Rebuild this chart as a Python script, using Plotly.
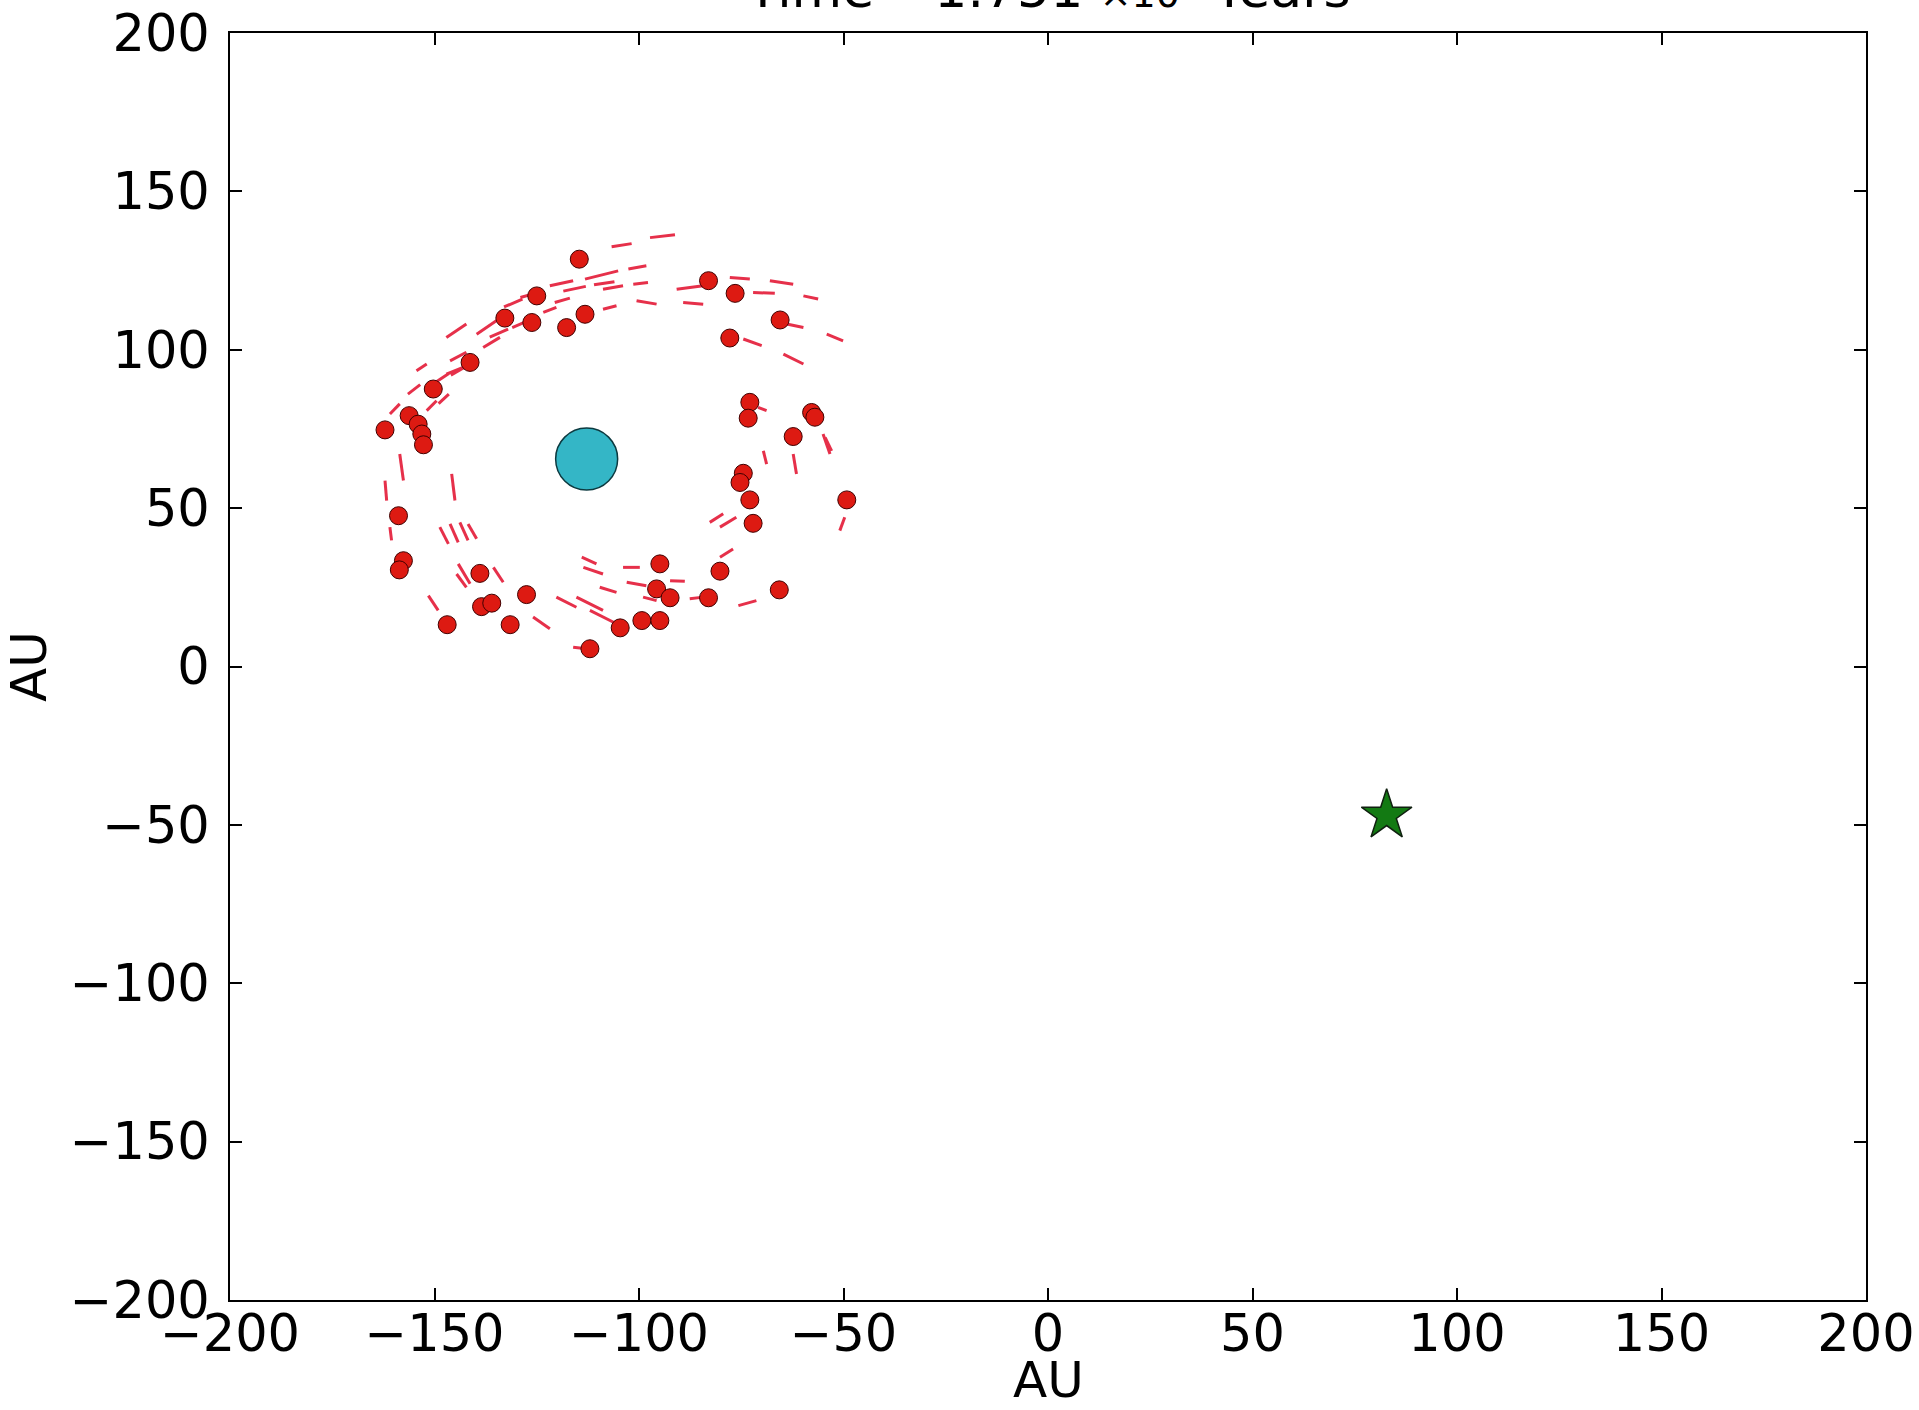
import plotly.graph_objects as go

# Particle positions (AU)
dot_x = [-114.6, -83.0, -76.5, -125.0, -132.8, -126.2, -117.7, -113.2, -65.5, -77.8,
         -141.3, -150.3, -162.1, -156.2, -154.0, -153.1, -152.7, -72.9, -73.3, -57.8,
         -57.0, -62.3, -74.5, -75.3, -72.9, -49.2, -72.1, -158.8, -157.6, -158.6,
         -138.9, -94.9, -80.2, -127.5, -95.7, -92.4, -83.0, -65.7, -138.5, -136.0,
         -146.9, -131.5, -104.6, -99.3, -94.9, -112.0]
dot_y = [128.6, 121.8, 117.8, 117.0, 110.0, 108.6, 107.0, 111.2, 109.4, 103.7,
         96.0, 87.6, 74.7, 79.2, 76.5, 73.4, 70.0, 83.4, 78.4, 80.2,
         78.7, 72.6, 61.0, 58.1, 52.6, 52.6, 45.2, 47.6, 33.4, 30.5,
         29.4, 32.4, 30.1, 22.7, 24.5, 21.7, 21.7, 24.2, 18.9, 20.0,
         13.2, 13.2, 12.2, 14.5, 14.5, 5.6]

# Trail segments (AU): start and end points
trail_x0 = [-106.7, -97.3, -113.2, -102.6, -121.8, -108.8, -101.4, -120.6, -123.4, -100.6,
            -89.2, -108.8, -90.8, -77.8, -72.1, -68.0, -59.8, -54.1, -63.9, -74.5,
            -64.7, -147.1, -139.7, -138.1, -146.2, -154.4, -147.1, -160.9, -151.9, -158.5,
            -162.1, -145.8, -160.9, -148.7, -146.2, -143.8, -141.8, -144.2, -144.6, -135.6,
            -151.5, -125.9, -120.2, -115.3, -112.0, -114.0, -113.6, -109.6, -103.9, -103.0,
            -92.4, -99.0, -87.6, -75.7, -80.2, -82.7, -80.2, -69.6, -62.3, -55.0,
            -54.5, -70.9, -49.7, -116.1,
            -133.0, -129.0, -118.5, -111.0, -150.0, -146.0, -156.5, -149.0, -136.5, -131.0]
trail_y0 = [132.5, 135.4, 122.3, 125.5, 120.2, 119.1, 120.7, 114.9, 111.8, 115.5,
            114.9, 112.8, 119.1, 122.8, 118.1, 121.8, 117.0, 104.9, 108.1, 103.4,
            98.6, 103.9, 104.9, 100.7, 96.5, 93.4, 92.3, 79.7, 80.8, 67.1,
            58.7, 60.8, 44.0, 44.0, 45.0, 45.5, 45.0, 32.4, 29.2, 31.3,
            22.4, 15.6, 21.9, 21.9, 17.7, 34.5, 31.3, 25.0, 31.3, 26.6,
            27.1, 21.9, 21.4, 19.2, 34.5, 45.5, 44.0, 68.1, 67.1, 73.4,
            72.3, 81.8, 47.1, 6.1,
            113.5, 116.5, 118.5, 120.5, 89.5, 92.0, 86.0, 83.0, 104.0, 107.0]
trail_x1 = [-101.8, -91.2, -105.1, -98.2, -116.1, -103.9, -97.8, -116.9, -120.2, -95.7,
            -84.3, -105.5, -84.3, -72.9, -66.8, -62.3, -56.2, -50.1, -59.8, -70.0,
            -59.8, -142.2, -134.8, -134.0, -142.2, -151.9, -143.0, -158.5, -149.5, -157.6,
            -161.7, -145.0, -160.5, -146.6, -144.2, -141.8, -139.7, -141.3, -142.2, -133.2,
            -149.1, -121.8, -115.3, -108.8, -105.5, -110.4, -108.8, -105.5, -99.8, -98.2,
            -88.8, -95.7, -84.3, -71.3, -77.0, -79.4, -76.2, -68.8, -61.5, -53.3,
            -52.9, -68.8, -50.9, -112.8,
            -128.5, -123.5, -113.0, -106.0, -146.5, -142.0, -153.5, -146.5, -132.0, -126.5]
trail_y1 = [133.5, 136.3, 124.9, 126.5, 121.8, 120.2, 121.2, 116.3, 113.4, 114.4,
            114.4, 113.9, 120.2, 122.3, 117.8, 120.7, 116.0, 102.8, 107.0, 101.3,
            95.5, 108.1, 109.2, 103.9, 99.2, 95.5, 94.4, 82.9, 83.9, 58.7,
            52.4, 52.4, 39.8, 38.7, 39.2, 39.8, 40.3, 26.1, 25.0, 26.6,
            17.7, 11.9, 18.7, 17.7, 13.5, 32.4, 29.2, 23.4, 31.3, 25.5,
            26.9, 20.8, 21.9, 20.8, 37.1, 48.2, 47.1, 63.9, 60.8, 67.1,
            68.1, 80.8, 42.9, 5.6,
            116.0, 118.5, 120.0, 121.5, 92.5, 95.0, 89.0, 86.0, 106.5, 109.5]

planet_x = [-112.8]
planet_y = [65.5]
star_x = [82.8]
star_y = [-47.0]

tick_vals = [-200, -150, -100, -50, 0, 50, 100, 150, 200]
tick_text = ["\u2212200", "\u2212150", "\u2212100", "\u221250", "0", "50", "100", "150", "200"]
title_text = "Time =1.751 <span style='font-size:38px'>\u00d710<sup>4</sup></span> Years"
x_title = "AU"
y_title = "AU"

FONT = "DejaVu Sans"

fig = go.Figure()

# trails
tx, ty = [], []
for a, b, c, d in zip(trail_x0, trail_y0, trail_x1, trail_y1):
    tx += [a, c, None]
    ty += [b, d, None]
fig.add_trace(go.Scatter(x=tx, y=ty, mode="lines",
                         line=dict(color="#e6304a", width=3),
                         hoverinfo="skip", showlegend=False))

fig.add_trace(go.Scatter(x=dot_x, y=dot_y, mode="markers",
                         marker=dict(color="#dd1a12", size=18,
                                     line=dict(color="#400000", width=1)),
                         showlegend=False))

fig.add_trace(go.Scatter(x=planet_x, y=planet_y, mode="markers",
                         marker=dict(color="#34b6c6", size=62,
                                     line=dict(color="#0c3a40", width=1.5)),
                         showlegend=False))

fig.add_trace(go.Scatter(x=star_x, y=star_y, mode="markers",
                         marker=dict(color="#137a13", size=38, symbol="star",
                                     line=dict(color="#102010", width=1.5)),
                         showlegend=False))

axis_common = dict(
    range=[-200, 200], tickvals=tick_vals, ticktext=tick_text,
    showgrid=False, zeroline=False, showline=True, linecolor="black",
    linewidth=2, mirror="ticks", ticks="inside", ticklen=12, tickwidth=1.5,
    tickcolor="black", tickfont=dict(family=FONT, size=51, color="black"),
    automargin=False,
)

fig.update_layout(
    width=1919, height=1410,
    margin=dict(l=230, r=53, t=33, b=110),
    paper_bgcolor="white", plot_bgcolor="white",
    font=dict(family=FONT, color="black"),
    xaxis=dict(**axis_common, ticklabelstandoff=-12),
    yaxis=dict(**axis_common, ticklabelstandoff=8,
               title=dict(text=y_title, font=dict(family=FONT, size=50), standoff=10)),
    annotations=[
        dict(text=title_text, xref="paper", yref="paper", x=0.5, y=1,
             xanchor="center", yanchor="bottom", yshift=12, showarrow=False,
             font=dict(family=FONT, size=52, color="black")),
        dict(text=x_title, xref="paper", yref="paper", x=0.5, y=0,
             xanchor="center", yanchor="middle", yshift=-80, showarrow=False,
             font=dict(family=FONT, size=50, color="black")),
    ],
)

fig.write_html("out.html")
